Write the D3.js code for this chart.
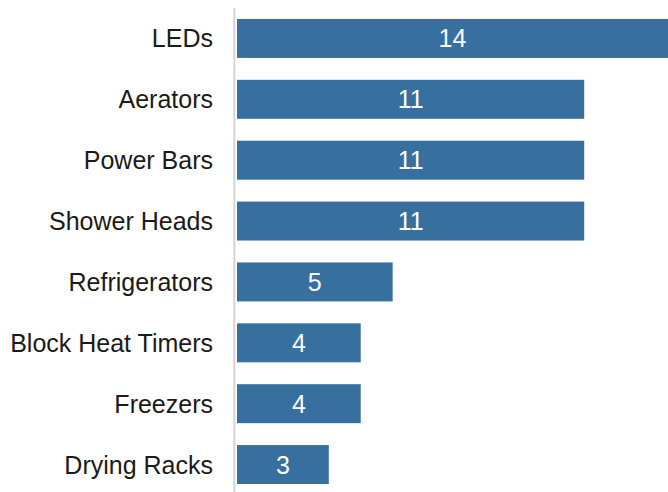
<!DOCTYPE html>
<html>
<head>
<meta charset="utf-8">
<script src="https://cdn.jsdelivr.net/npm/d3@7"></script>
<style>
  html, body { margin: 0; padding: 0; background: #ffffff; }
  svg { display: block; }
  text { font-family: "Liberation Sans", Arial, sans-serif; }
</style>
</head>
<body>
<svg id="chart" width="668" height="492"></svg>
<script>
const categories = ["LEDs", "Aerators", "Power Bars", "Shower Heads", "Refrigerators", "Block Heat Timers", "Freezers", "Drying Racks"];
const values = [14, 11, 11, 11, 5, 4, 4, 3];

const W = 668, H = 492;
const svg = d3.select("#chart");

const x = d3.scaleLinear().domain([0, 14]).range([233, 680]);
const y = d3.scaleBand().domain(categories).range([8, 495]).paddingInner(0.36).paddingOuter(0.18);

const data = categories.map((c, i) => ({ c, v: values[i] }));
const barStart = x(0) + 4;

svg.append("g").selectAll("rect").data(data).join("rect")
  .attr("x", barStart)
  .attr("y", d => y(d.c))
  .attr("width", d => x(d.v) - barStart)
  .attr("height", y.bandwidth())
  .attr("fill", "#376f9f");

// axis line
svg.append("line")
  .attr("x1", x(0) + 1.3).attr("x2", x(0) + 1.3)
  .attr("y1", 8).attr("y2", H)
  .attr("stroke", "#d4d4d4").attr("stroke-width", 2);

// category labels
svg.append("g").selectAll("text").data(data).join("text")
  .attr("x", 213)
  .attr("y", d => y(d.c) + y.bandwidth() / 2)
  .attr("dy", "0.36em")
  .attr("text-anchor", "end")
  .attr("font-size", 25)
  .attr("fill", "#1a1a1a")
  .text(d => d.c);

// value labels
svg.append("g").selectAll("text").data(data).join("text")
  .attr("x", d => (barStart + Math.min(x(d.v), W)) / 2)
  .attr("y", d => y(d.c) + y.bandwidth() / 2)
  .attr("dy", "0.36em")
  .attr("text-anchor", "middle")
  .attr("font-size", 25)
  .attr("fill", "#ffffff")
  .text(d => d.v);
</script>
</body>
</html>
